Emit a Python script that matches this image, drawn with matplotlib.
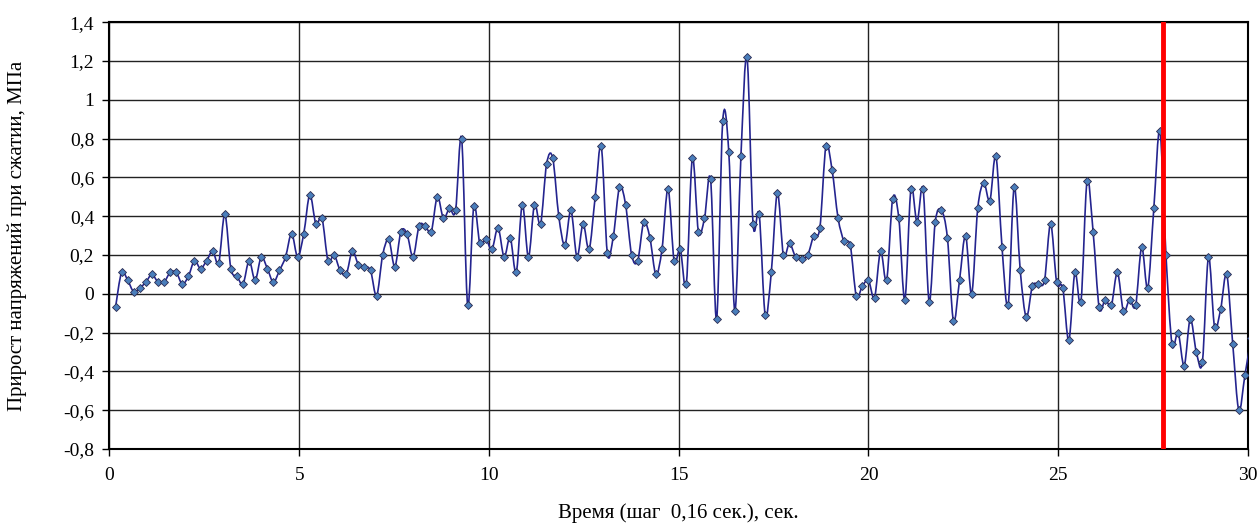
import numpy as np
import matplotlib.pyplot as plt
from matplotlib.path import Path
from matplotlib.patches import PathPatch
from matplotlib.ticker import FuncFormatter, MultipleLocator

plt.rcParams['font.family'] = ['Liberation Serif', 'DejaVu Serif']

step = 0.16
stress = [
    -0.07, 0.11, 0.07, 0.01, 0.03, 0.06, 0.10, 0.06, 0.06, 0.11,
    0.11, 0.05, 0.09, 0.17, 0.13, 0.17, 0.22, 0.16, 0.41, 0.13,
    0.09, 0.05, 0.17,
    0.07, 0.19, 0.13, 0.06, 0.12, 0.19, 0.31, 0.19, 0.31, 0.51,
    0.36, 0.39, 0.17, 0.20, 0.12, 0.10, 0.22, 0.15, 0.14, 0.12,
    -0.01, 0.20, 0.28, 0.14,
    0.32, 0.31, 0.19, 0.35, 0.35, 0.32, 0.50, 0.39, 0.44, 0.43,
    0.80, -0.06, 0.45, 0.26, 0.28, 0.23, 0.34, 0.19, 0.29, 0.11,
    0.46, 0.19, 0.46, 0.36,
    0.67, 0.70, 0.40, 0.25, 0.43, 0.19, 0.36, 0.23, 0.50, 0.76,
    0.21, 0.30, 0.55, 0.46, 0.20, 0.17, 0.37, 0.29, 0.10, 0.23,
    0.54, 0.17, 0.23, 0.05,
    0.70, 0.32, 0.39, 0.59, -0.13, 0.89, 0.73, -0.09, 0.71, 1.22,
    0.36, 0.41, -0.11, 0.11, 0.52, 0.20, 0.26, 0.19, 0.18, 0.20,
    0.30, 0.34, 0.76, 0.64,
    0.39, 0.27, 0.25, -0.01, 0.04, 0.07, -0.02, 0.22, 0.07, 0.49,
    0.39, -0.03, 0.54, 0.37, 0.54, -0.04, 0.37, 0.43, 0.29, -0.14,
    0.07, 0.30, 0.00, 0.44,
    0.57, 0.48, 0.71, 0.24, -0.06, 0.55, 0.12, -0.12, 0.04, 0.05,
    0.07, 0.36, 0.06, 0.03, -0.24, 0.11, -0.04, 0.58, 0.32, -0.07,
    -0.03, -0.06, 0.11,
    -0.09, -0.03, -0.06, 0.24, 0.03, 0.44, 0.84, 0.20, -0.26, -0.20,
    -0.37, -0.13, -0.30, -0.35, 0.19, -0.17, -0.08, 0.10, -0.26, -0.60,
    -0.42, -0.23,
]
time = step * np.arange(1, len(stress) + 1)
threshold_time = 27.76

fig, ax = plt.subplots(figsize=(12.58, 5.27), dpi=100)
fig.subplots_adjust(left=0.087, right=0.992, top=0.958, bottom=0.148)

# smoothed line (like excel "smoothed line"), bezier segments through the points
pts = np.column_stack([time, stress])
ext = np.vstack([pts[0], pts, pts[-1]])
c1 = pts[:-1] + (ext[2:-1] - ext[:-3]) / 6
c2 = pts[1:] - (ext[3:] - ext[1:-2]) / 6
verts = [pts[0]]
for a, b, p in zip(c1, c2, pts[1:]):
    verts += [a, b, p]
codes = [Path.MOVETO] + [Path.CURVE4] * (len(verts) - 1)
ax.add_patch(PathPatch(Path(verts, codes), fill=False, edgecolor='#24248f',
                       lw=1.2, zorder=3))
ax.plot(time, stress, ls='none', marker='D', ms=4, mfc='#4a7ebb',
        mec='#2a2a50', mew=0.6, zorder=4)

ax.axvline(threshold_time, color='red', lw=3.5, zorder=5)

ax.set_xlim(0, 30)
ax.set_ylim(-0.8, 1.4)
ax.xaxis.set_major_locator(MultipleLocator(5))
ax.yaxis.set_major_locator(MultipleLocator(0.2))


def comma(v, pos):
    if abs(v) < 1e-9:
        return '0'
    return f'{round(v, 1):g}'.replace('.', ',')


ax.xaxis.set_major_formatter(FuncFormatter(comma))
ax.yaxis.set_major_formatter(FuncFormatter(comma))
ax.grid(True, color='#222222', lw=1.0, zorder=1)
ax.set_axisbelow(True)
for s in ax.spines.values():
    s.set_linewidth(1.5)
ax.tick_params(direction='out', length=5, width=1, labelsize=14)
ax.tick_params(axis='y', pad=6)
ax.tick_params(axis='x', pad=8)

ax.set_xlabel('Время (шаг  0,16 сек.), сек.', fontsize=15, labelpad=14)
ax.set_ylabel('Прирост напряжений при сжатии, МПа', fontsize=15, labelpad=26)

fig.savefig('out.png', dpi=100)
